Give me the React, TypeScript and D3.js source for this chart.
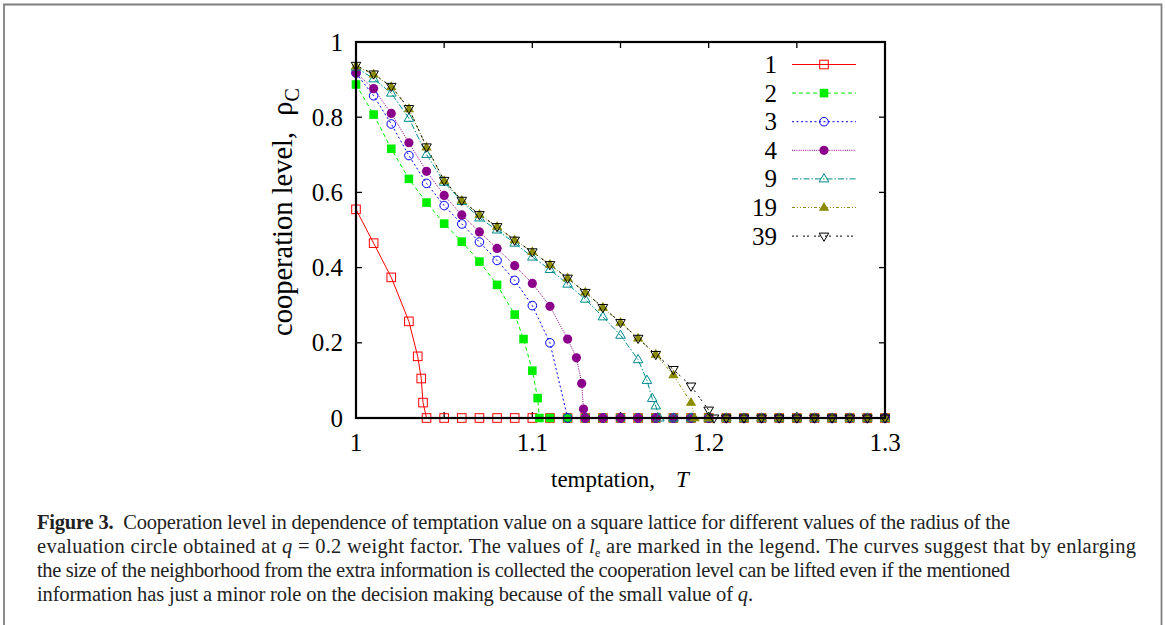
import React from "react";
import * as d3 from "d3";

const xTicks = [1, 1.1, 1.2, 1.3];
const xTickLabels = ["1", "1.1", "1.2", "1.3"];
const xMinorTicks = [1.05, 1.15, 1.25];
const yTicks = [0, 0.2, 0.4, 0.6, 0.8, 1];
const yTickLabels = ["0", "0.2", "0.4", "0.6", "0.8", "1"];

const legendLabels = ["1", "2", "3", "4", "9", "19", "39"];

const s1: [number, number][] = [
  [1.0, 0.555], [1.01, 0.465], [1.02, 0.374], [1.03, 0.257], [1.035, 0.164], [1.037, 0.105], [1.038, 0.041],
  [1.04, 0], [1.05, 0], [1.06, 0], [1.07, 0], [1.08, 0], [1.09, 0], [1.1, 0], [1.11, 0], [1.12, 0], [1.13, 0],
  [1.14, 0], [1.15, 0], [1.16, 0], [1.17, 0], [1.18, 0], [1.19, 0], [1.2, 0], [1.21, 0], [1.22, 0], [1.23, 0],
  [1.24, 0], [1.25, 0], [1.26, 0], [1.27, 0], [1.28, 0], [1.29, 0], [1.3, 0],
];
const s2: [number, number][] = [
  [1.0, 0.887], [1.01, 0.807], [1.02, 0.716], [1.03, 0.636], [1.04, 0.573], [1.05, 0.517], [1.06, 0.469],
  [1.07, 0.416], [1.08, 0.354], [1.09, 0.275], [1.095, 0.21], [1.1, 0.126], [1.103, 0.053], [1.104, 0],
  [1.11, 0], [1.12, 0], [1.13, 0], [1.14, 0], [1.15, 0], [1.16, 0], [1.17, 0], [1.18, 0], [1.19, 0], [1.2, 0],
  [1.21, 0], [1.22, 0], [1.23, 0], [1.24, 0], [1.25, 0], [1.26, 0], [1.27, 0], [1.28, 0], [1.29, 0], [1.3, 0],
];
const s3: [number, number][] = [
  [1.0, 0.917], [1.01, 0.857], [1.02, 0.782], [1.03, 0.698], [1.04, 0.624], [1.05, 0.565], [1.06, 0.516],
  [1.07, 0.468], [1.08, 0.419], [1.09, 0.366], [1.1, 0.299], [1.11, 0.2], [1.12, 0], [1.13, 0], [1.14, 0],
  [1.15, 0], [1.16, 0], [1.17, 0], [1.18, 0], [1.19, 0], [1.2, 0], [1.21, 0], [1.22, 0], [1.23, 0], [1.24, 0],
  [1.25, 0], [1.26, 0], [1.27, 0], [1.28, 0], [1.29, 0], [1.3, 0],
];
const s4: [number, number][] = [
  [1.0, 0.918], [1.01, 0.876], [1.02, 0.81], [1.03, 0.732], [1.04, 0.656], [1.05, 0.592], [1.06, 0.54],
  [1.07, 0.495], [1.08, 0.451], [1.09, 0.405], [1.1, 0.358], [1.11, 0.297], [1.12, 0.21], [1.125, 0.16],
  [1.128, 0.092], [1.129, 0.024], [1.13, 0], [1.14, 0], [1.15, 0], [1.16, 0], [1.17, 0], [1.18, 0], [1.19, 0],
  [1.2, 0], [1.21, 0], [1.22, 0], [1.23, 0], [1.24, 0], [1.25, 0], [1.26, 0], [1.27, 0], [1.28, 0], [1.29, 0], [1.3, 0],
];
const s9: [number, number][] = [
  [1.0, 0.933], [1.01, 0.902], [1.02, 0.864], [1.03, 0.797], [1.04, 0.701], [1.05, 0.627], [1.06, 0.576],
  [1.07, 0.532], [1.08, 0.5], [1.09, 0.465], [1.1, 0.428], [1.11, 0.395], [1.12, 0.356], [1.13, 0.316],
  [1.14, 0.269], [1.15, 0.22], [1.16, 0.155], [1.165, 0.1], [1.168, 0.052], [1.17, 0.032], [1.172, 0],
  [1.18, 0], [1.19, 0], [1.2, 0], [1.21, 0], [1.22, 0], [1.23, 0], [1.24, 0], [1.25, 0], [1.26, 0], [1.27, 0],
  [1.28, 0], [1.29, 0], [1.3, 0],
];
const s19: [number, number][] = [
  [1.0, 0.936], [1.01, 0.914], [1.02, 0.881], [1.03, 0.822], [1.04, 0.72], [1.05, 0.631], [1.06, 0.578],
  [1.07, 0.541], [1.08, 0.509], [1.09, 0.473], [1.1, 0.442], [1.11, 0.408], [1.12, 0.372], [1.13, 0.334],
  [1.14, 0.294], [1.15, 0.254], [1.16, 0.212], [1.17, 0.169], [1.18, 0.114], [1.19, 0.041], [1.192, 0],
  [1.2, 0], [1.21, 0], [1.22, 0], [1.23, 0], [1.24, 0], [1.25, 0], [1.26, 0], [1.27, 0], [1.28, 0], [1.29, 0], [1.3, 0],
];
const s39: [number, number][] = [
  [1.0, 0.938], [1.01, 0.915], [1.02, 0.882], [1.03, 0.823], [1.04, 0.721], [1.05, 0.632], [1.06, 0.579],
  [1.07, 0.541], [1.08, 0.509], [1.09, 0.473], [1.1, 0.442], [1.11, 0.408], [1.12, 0.372], [1.13, 0.334],
  [1.14, 0.294], [1.15, 0.254], [1.16, 0.212], [1.17, 0.169], [1.18, 0.129], [1.19, 0.085], [1.2, 0.021],
  [1.203, 0], [1.21, 0], [1.22, 0], [1.23, 0], [1.24, 0], [1.25, 0], [1.26, 0], [1.27, 0], [1.28, 0], [1.29, 0], [1.3, 0],
];

const seriesData = [s1, s2, s3, s4, s9, s19, s39];
const seriesColors = ["#ff0000", "#00ee00", "#0000ff", "#8b008b", "#008b8b", "#8b8b00", "#000000"];
const seriesDash = ["", "4,3", "2,2.5", "1,1.2", "6,2,1.5,2", "3,2,1,2,1,2", "2,2,2,5"];
const seriesMarker = ["sq", "sqf", "circ", "circf", "tri", "trif", "itri"];

const captionLine1 = "Cooperation level in dependence of temptation value on a square lattice for different values of the radius of the";

const ML = 356, MR = 885, MT = 42, MB = 418;

function Marker({ type, x, y, color }: { type: string; x: number; y: number; color: string }) {
  const s = 4.3;
  switch (type) {
    case "sq":
      return <rect x={x - s} y={y - s} width={2 * s} height={2 * s} fill="none" stroke={color} strokeWidth={1} />;
    case "sqf":
      return <rect x={x - s} y={y - s} width={2 * s} height={2 * s} fill={color} stroke="none" />;
    case "circ":
      return <circle cx={x} cy={y} r={4.3} fill="none" stroke={color} strokeWidth={1} />;
    case "circf":
      return <circle cx={x} cy={y} r={4.6} fill={color} stroke="none" />;
    case "tri":
      return <path d={`M${x},${y - 5.2}L${x + 4.8},${y + 3}L${x - 4.8},${y + 3}Z`} fill="none" stroke={color} strokeWidth={1} />;
    case "trif":
      return <path d={`M${x},${y - 5.6}L${x + 5.2},${y + 3.2}L${x - 5.2},${y + 3.2}Z`} fill={color} stroke="none" />;
    case "itri":
      return <path d={`M${x},${y + 5.2}L${x + 4.8},${y - 3}L${x - 4.8},${y - 3}Z`} fill="none" stroke={color} strokeWidth={1} />;
  }
  return null;
}

export default function App() {
  const x = d3.scaleLinear().domain([1, 1.3]).range([ML, MR]);
  const y = d3.scaleLinear().domain([0, 1]).range([MB, MT]);
  const line = d3.line<[number, number]>().x((d) => x(d[0])).y((d) => y(d[1]));
  const font = "'Liberation Serif', 'Times New Roman', serif";
  const tickLen = 6;
  const legendY0 = 64.5;
  const legendDy = 28.6;

  return (
    <svg width={1165} height={625} style={{ position: "absolute", left: 0, top: 0 }} fontFamily={font}>
      <rect x={0} y={0} width={1165} height={625} fill="#fff" />
      <path d="M4,640V4.5H1161.5V640" fill="none" stroke="#7f7f7f" strokeWidth={1.8} />

      {/* ticks */}
      {[...xTicks, ...xMinorTicks].map((t, i) => (
        <g key={"xt" + i}>
          <line x1={x(t)} x2={x(t)} y1={MB} y2={MB - tickLen} stroke="#000" strokeWidth={1.3} />
          <line x1={x(t)} x2={x(t)} y1={MT} y2={MT + tickLen} stroke="#000" strokeWidth={1.3} />
        </g>
      ))}
      {yTicks.map((t, i) => (
        <g key={"yt" + i}>
          <line x1={ML} x2={ML + tickLen} y1={y(t)} y2={y(t)} stroke="#000" strokeWidth={1.3} />
          <line x1={MR} x2={MR - tickLen} y1={y(t)} y2={y(t)} stroke="#000" strokeWidth={1.3} />
        </g>
      ))}

      {/* series lines */}
      {seriesData.map((s, i) => (
        <path key={"l" + i} d={line(s) || ""} fill="none" stroke={seriesColors[i]} strokeWidth={1}
          strokeDasharray={seriesDash[i] || undefined} />
      ))}
      {seriesData.map((s, i) => (
        <g key={"m" + i}>
          {s.map((d, j) => (
            <Marker key={j} type={seriesMarker[i]} x={x(d[0])} y={y(d[1])} color={seriesColors[i]} />
          ))}
        </g>
      ))}

      {/* frame */}
      <rect x={ML} y={MT} width={MR - ML} height={MB - MT} fill="none" stroke="#000" strokeWidth={2.2} />

      {/* tick labels */}
      {xTicks.map((t, i) => (
        <text key={"xl" + i} x={x(t)} y={451} textAnchor="middle" fontSize={25}>{xTickLabels[i]}</text>
      ))}
      {yTicks.map((t, i) => (
        <text key={"yl" + i} x={343} y={y(t) + 8.5} textAnchor="end" fontSize={25}>{yTickLabels[i]}</text>
      ))}

      {/* axis titles */}
      <text x={551} y={487} fontSize={23}>
        temptation,<tspan x={676} fontStyle="italic">T</tspan>
      </text>
      <text transform="translate(292,336) rotate(-90)" fontSize={28.5}>
        cooperation level,<tspan dx={16}>ρ</tspan><tspan fontSize={20} dy={7}>C</tspan>
      </text>

      {/* legend */}
      {legendLabels.map((lab, i) => {
        const ly = legendY0 + i * legendDy;
        return (
          <g key={"lg" + i}>
            <text x={777} y={ly + 8.5} textAnchor="end" fontSize={25}>{lab}</text>
            <line x1={792} x2={856} y1={ly} y2={ly} stroke={seriesColors[i]} strokeWidth={1}
              strokeDasharray={seriesDash[i] || undefined} />
            <Marker type={seriesMarker[i]} x={824} y={ly} color={seriesColors[i]} />
          </g>
        );
      })}

      {/* caption */}
      <g fontSize={20.5} fill="#222">
        <text x={37} y={529} textLength={973} lengthAdjust="spacing">
          <tspan fontWeight="bold">Figure 3.</tspan>{"\u00a0\u00a0"}{captionLine1}
        </text>
        <text x={37} y={553} textLength={1099} lengthAdjust="spacing">
          evaluation circle obtained at <tspan fontStyle="italic">q</tspan> = 0.2 weight factor. The values of{" "}
          <tspan fontStyle="italic">l</tspan><tspan fontSize={12} dy={4}>e</tspan><tspan dy={-4}> are marked in the legend. The curves suggest that by enlarging</tspan>
        </text>
        <text x={37} y={577} textLength={973} lengthAdjust="spacing">
          the size of the neighborhood from the extra information is collected the cooperation level can be lifted even if the mentioned
        </text>
        <text x={37} y={601} textLength={716} lengthAdjust="spacing">
          information has just a minor role on the decision making because of the small value of <tspan fontStyle="italic">q</tspan>.
        </text>
      </g>
    </svg>
  );
}
